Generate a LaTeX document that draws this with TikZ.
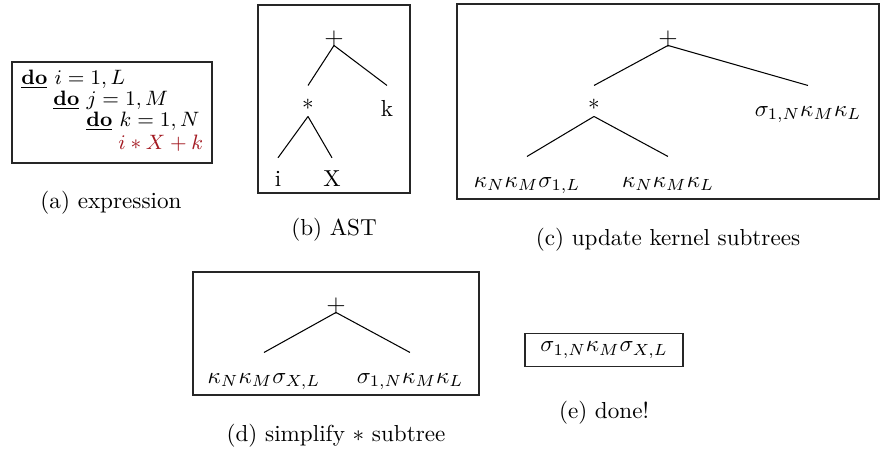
\documentclass[tikz,border=0pt]{standalone}
\usepackage{amsmath,amssymb}
\usepackage{xcolor}
\usetikzlibrary{positioning}
\definecolor{exprred}{rgb}{0.64,0.10,0.13}

\begin{document}
\begin{tikzpicture}[
                x=0.0152cm, y=-0.0152cm,
                frame/.style={draw=black!85, line width=0.5pt},
                tn/.style={inner sep=0pt, text height=7pt, text depth=0pt, anchor=base},
                op/.style={tn, font=\fontsize{11}{13}\selectfont},
                br/.style={line width=0.45pt},
                code/.style={inner sep=0pt, anchor=base west, font=\small, text height=6pt, text depth=1pt},
                subcap/.style={inner sep=0pt}
            ]
            \useasboundingbox (0,0) rectangle (883,455);
            % (a) expression
            \draw[frame] (12,62) rectangle (212,163);
            \node[code] (loopi) at (21,84) {\underline{\textbf{do}} $i=1,L$};
            \node[code] (loopj) at (53,105) {\underline{\textbf{do}} $j=1,M$};
            \node[code] (loopk) at (86,126) {\underline{\textbf{do}} $k=1,N$};
            \node[code, text=exprred] (body) at (118,149) {$i*X+k$};
            \node[subcap] (capa) at (111,203) {(a) expression};
            % (b) AST
            \draw[frame] (258,5) rectangle (410,193);
            \node[op] (plusb) at (334,45) {+};
            \node[tn] (timesb) at (308,116) {*};
            \node[tn] (kb) at (387,116) {k};
            \node[tn] (ib) at (278,186) {i};
            \node[tn] (xb) at (332,186) {X};
            \draw[br] (plusb.south) -- ([yshift=6pt]timesb.north);
            \draw[br] (plusb.south) -- ([yshift=6pt]kb.north);
            \draw[br] (timesb.south) -- ([yshift=5pt]ib.north);
            \draw[br] (timesb.south) -- ([yshift=5pt]xb.north);
            \node[subcap] (capb) at (334,230) {(b) AST};
            % (c) update kernel subtrees
            \draw[frame] (457,4) rectangle (879,199);
            \node[op] (plusc) at (668,45) {+};
            \node[tn] (timesc) at (594,116) {*};
            \node[tn] (rightc) at (808,116) {$\sigma_{1,N}\kappa_M\kappa_L$};
            \node[tn] (leftc) at (527,187) {$\kappa_N\kappa_M\sigma_{1,L}$};
            \node[tn] (midc) at (668,187) {$\kappa_N\kappa_M\kappa_L$};
            \draw[br] (plusc.south) -- ([yshift=6pt]timesc.north);
            \draw[br] (plusc.south) -- ([yshift=6pt]rightc.north);
            \draw[br] (timesc.south) -- ([yshift=6pt]leftc.north);
            \draw[br] (timesc.south) -- ([yshift=6pt]midc.north);
            \node[subcap] (capc) at (668,240) {(c) update kernel subtrees};
            % (d) simplify subtree
            \draw[frame] (193,272) rectangle (479,395);
            \node[op] (plusd) at (336,312) {+};
            \node[tn] (leftd) at (264,383) {$\kappa_N\kappa_M\sigma_{X,L}$};
            \node[tn] (rightd) at (410,383) {$\sigma_{1,N}\kappa_M\kappa_L$};
            \draw[br] (plusd.south) -- ([yshift=6pt]leftd.north);
            \draw[br] (plusd.south) -- ([yshift=6pt]rightd.north);
            \node[subcap] (capd) at (336,436) {(d) simplify $*$ subtree};
            % (e) done
            \node[frame, minimum width=2.4cm, minimum height=0.49cm] (done) at (604,350) {$\sigma_{1,N}\kappa_M\sigma_{X,L}$};
            \node[subcap] (cape) at (604,413) {(e) done!};
        \end{tikzpicture}
\end{document}
